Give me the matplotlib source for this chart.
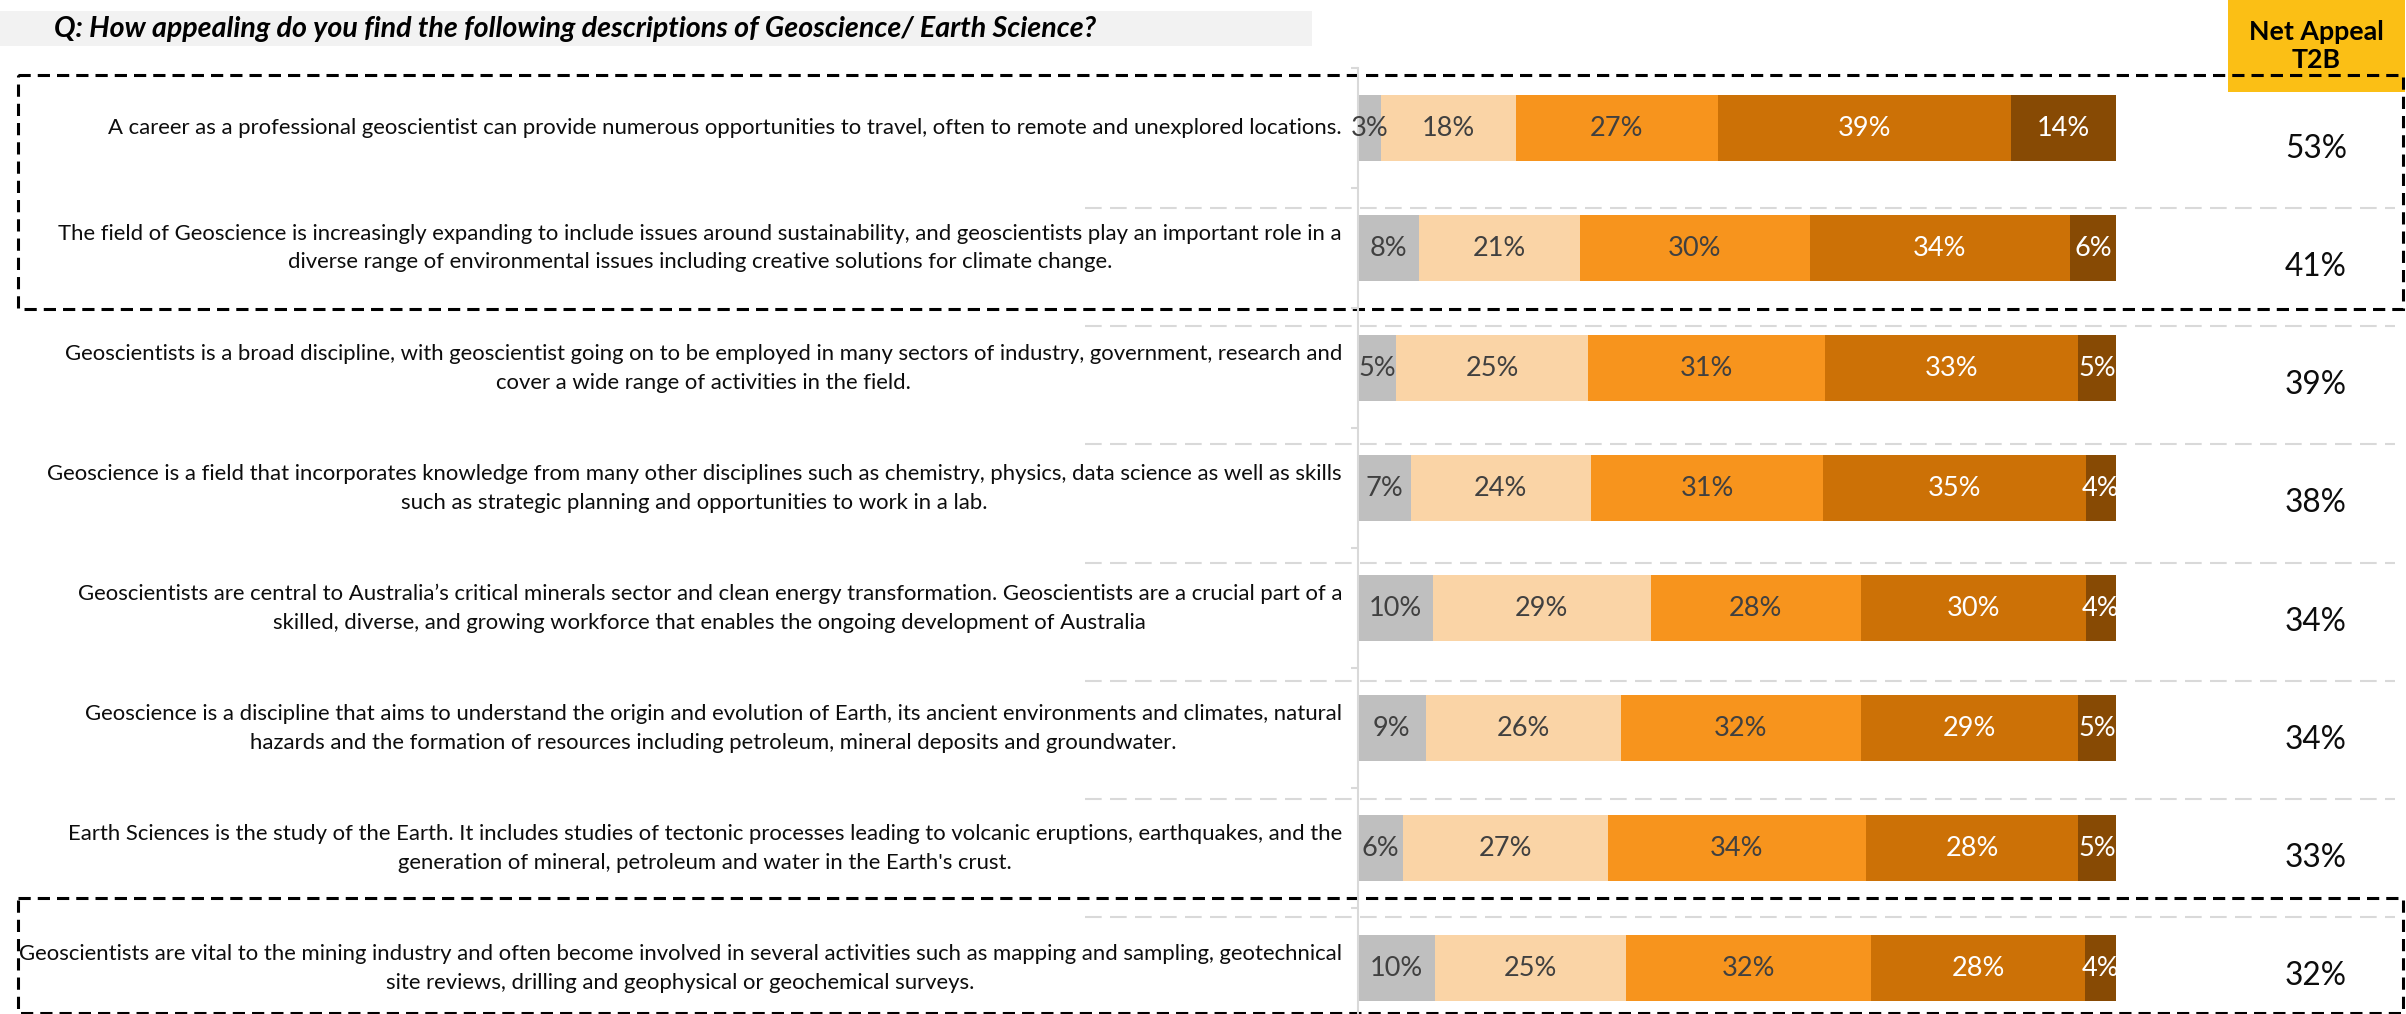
import matplotlib
matplotlib.use("Agg")
import matplotlib.pyplot as plt
import numpy as np
from matplotlib.patches import Rectangle
from matplotlib.transforms import blended_transform_factory
from matplotlib import font_manager

W, H = 2406, 1014

statements = [
    "A career as a professional geoscientist can provide numerous opportunities to travel, often to remote and unexplored locations.",
    "The field of Geoscience is increasingly expanding to include issues around sustainability, and geoscientists play an important role in a\n"
    "diverse range of environmental issues including creative solutions for climate change.",
    "Geoscientists is a broad discipline, with geoscientist going on to be employed in many sectors of industry, government, research and\n"
    "cover a wide range of activities in the field.",
    "Geoscience is a field that incorporates knowledge from many other disciplines such as chemistry, physics, data science as well as skills\n"
    "such as strategic planning and opportunities to work in a lab.",
    "Geoscientists are central to Australia\u2019s critical minerals sector and clean energy transformation. Geoscientists are a crucial part of a\n"
    "skilled, diverse, and growing workforce that enables the ongoing development of Australia",
    "Geoscience is a discipline that aims to understand the origin and evolution of Earth, its ancient environments and climates, natural\n"
    "hazards and the formation of resources including petroleum, mineral deposits and groundwater.",
    "Earth Sciences is the study of the Earth. It includes studies of tectonic processes leading to volcanic eruptions, earthquakes, and the\n"
    "generation of mineral, petroleum and water in the Earth's crust.",
    "Geoscientists are vital to the mining industry and often become involved in several activities such as mapping and sampling, geotechnical\n"
    "site reviews, drilling and geophysical or geochemical surveys.",
]

series_names = ["Not at all appealing", "Not very appealing", "Somewhat appealing", "Very appealing", "Extremely appealing"]
not_at_all = [3, 8, 5, 7, 10, 9, 6, 10]
not_very = [18, 21, 25, 24, 29, 26, 27, 25]
somewhat = [27, 30, 31, 31, 28, 32, 34, 32]
very = [39, 34, 33, 35, 30, 29, 28, 28]
extremely = [14, 6, 5, 4, 4, 5, 5, 4]
net_appeal = [53, 41, 39, 38, 34, 34, 33, 32]

colors = ["#BFBFBF", "#FAD4A6", "#F7941D", "#CC7106", "#874A04"]
text_colors = ["#404040", "#404040", "#404040", "white", "white"]

title = "Q: How appealing do you find the following descriptions of Geoscience/ Earth Science?"
header_lines = ["Net Appeal", "T2B"]

_names = {f.name for f in font_manager.fontManager.ttflist}
FONT = "Liberation Sans Narrow" if "Liberation Sans Narrow" in _names else "Lato"
plt.rcParams["font.family"] = [FONT, "DejaVu Sans"]


def px_box(x0, y0, x1, y1):
    return [x0 / W, 1 - y1 / H, (x1 - x0) / W, (y1 - y0) / H]


fig = plt.figure(figsize=(W / 100, H / 100), dpi=100)
renderer = fig.canvas.get_renderer()


def fit_size(text, target_px, **kw):
    # font size that makes `text` about target_px wide
    t = fig.text(0, 0, text, fontsize=20, **kw)
    w = t.get_window_extent(renderer).width
    t.remove()
    return 20 * target_px / w


row_fs = fit_size(statements[-1].split("\n")[0], 1326)
title_fs = fit_size(title, 1040, fontweight="bold", fontstyle="italic")
head_fs = fit_size(header_lines[0], 135, fontweight="bold")
bar_fs = fit_size("27%", 53)
net_fs = fit_size("53%", 62)

# overlay in pixel coordinates for the frame elements
ov = fig.add_axes([0, 0, 1, 1], zorder=0)
ov.set_xlim(0, W)
ov.set_ylim(H, 0)
ov.axis("off")

ov.add_patch(Rectangle((0, 11), 1312, 35, color="#F2F2F2", lw=0))
ov.text(54, 29, title, fontsize=title_fs, fontweight="bold", fontstyle="italic", va="center", ha="left")

ov.add_patch(Rectangle((2228, 0), 177, 92, color="#FBBF15", lw=0))
for k, line in enumerate(header_lines):
    ov.text(2316, 40 + 28 * k, line, fontsize=head_fs, fontweight="bold", ha="center", va="baseline")

# right-hand table rows
tbl_top, tbl_row = 89.8, 118.2
for k in range(len(statements) - 1):
    y = tbl_top + tbl_row * (k + 1)
    ov.plot([1085, 2395], [y, y], color="#D9D9D9", lw=1.5, ls=(0, (8, 4)))
for i, v in enumerate(net_appeal):
    ov.text(2316, tbl_top + tbl_row * (i + 0.5), f"{v}%", fontsize=net_fs, ha="center", va="center",
            color="#0D0D0D")

dash = (0, (4, 2.3))
ov.add_patch(Rectangle((18, 75), 2385, 234, fill=False, ec="black", lw=2.2, ls=dash, zorder=5))
ov.add_patch(Rectangle((18, 898), 2385, 115, fill=False, ec="black", lw=2.2, ls=dash, zorder=5))

# stacked bars
ax = fig.add_axes(px_box(1358, 68, 2116, 1014), zorder=2)
ax.patch.set_visible(False)
ax.set_xlim(0, 100)
ax.set_ylim(7.38, -0.5)

data = np.array([not_at_all, not_very, somewhat, very, extremely], dtype=float)
shares = data / data.sum(axis=0) * 100
y = np.arange(len(statements))
left = np.zeros(len(statements))
for s, name in enumerate(series_names):
    ax.barh(y, shares[s], left=left, height=0.55, color=colors[s], label=name)
    for i in range(len(statements)):
        ax.text(left[i] + shares[s][i] / 2, i, f"{int(data[s][i])}%", ha="center", va="center",
                fontsize=bar_fs, color=text_colors[s])
    left += shares[s]

for side in ["top", "right", "bottom"]:
    ax.spines[side].set_visible(False)
ax.spines["left"].set_color("#D9D9D9")
ax.spines["left"].set_linewidth(1.5)
ax.set_xticks([])
ax.set_yticks(np.arange(-0.5, len(statements) - 1))
ax.set_yticklabels([])
ax.tick_params(axis="y", length=5, color="#D9D9D9", width=1.5)

lab_tr = blended_transform_factory(ov.transData, ax.transData)
for i, txt in enumerate(statements):
    ax.text(1342, i, txt, transform=lab_tr, ha="right", va="center", multialignment="center",
            fontsize=row_fs, linespacing=1.55, color="#0D0D0D", clip_on=False)

fig.savefig("out.png", dpi=100)
